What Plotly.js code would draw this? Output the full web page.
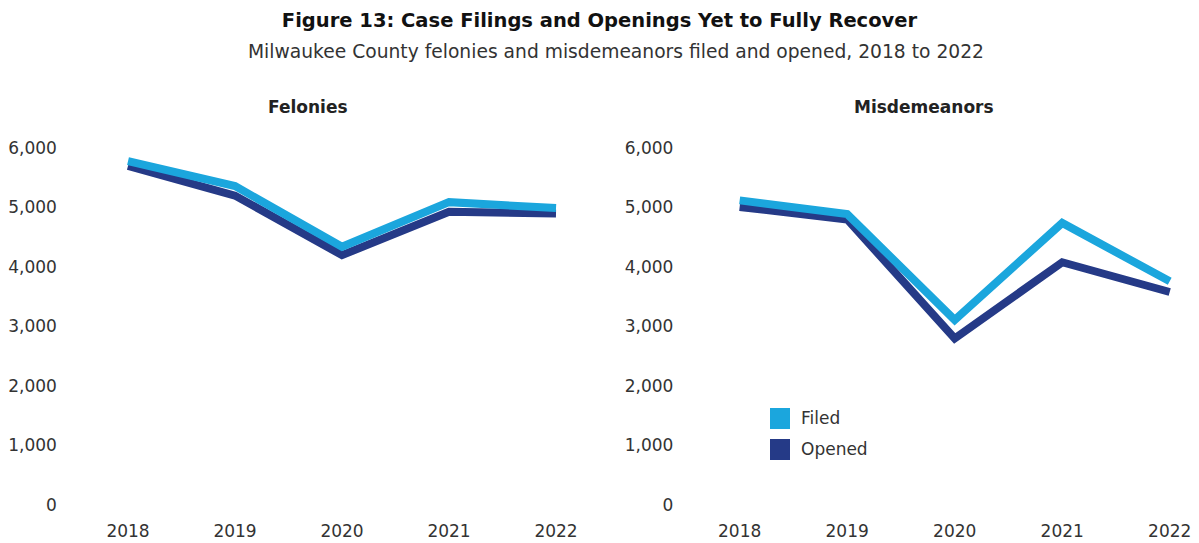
<!DOCTYPE html>
<html>
<head>
<meta charset="utf-8">
<script src="https://cdn.plot.ly/plotly-3.0.1.min.js"></script>
<style>html,body{margin:0;padding:0;background:#fff;}#chart{width:1199px;height:543px;}</style>
</head>
<body>
<div id="chart"></div>
<script>
const years = ["2018", "2019", "2020", "2021", "2022"];
const feloniesFiled = [5780, 5360, 4340, 5090, 4990];
const feloniesOpened = [5700, 5200, 4200, 4930, 4900];
const misdemeanorsFiled = [5120, 4890, 3110, 4740, 3760];
const misdemeanorsOpened = [5010, 4800, 2800, 4080, 3580];
const yTicks = [0, 1000, 2000, 3000, 4000, 5000, 6000];
const yTickLabels = ["0", "1,000", "2,000", "3,000", "4,000", "5,000", "6,000"];
const legendNames = ["Filed", "Opened"];

const cFiled = "#1ba6dd";
const cOpened = "#253a87";
const FONT = "'DejaVu Sans', Verdana, sans-serif";

const lineStyle = (c) => ({color: c, width: 8, shape: "linear"});

const traces = [
  {x: years, y: feloniesOpened, xaxis: "x", yaxis: "y", mode: "lines", line: lineStyle(cOpened), showlegend: false, name: "Opened"},
  {x: years, y: feloniesFiled, xaxis: "x", yaxis: "y", mode: "lines", line: lineStyle(cFiled), showlegend: false, name: "Filed"},
  {x: years, y: misdemeanorsOpened, xaxis: "x2", yaxis: "y2", mode: "lines", line: lineStyle(cOpened), showlegend: false, name: "Opened"},
  {x: years, y: misdemeanorsFiled, xaxis: "x2", yaxis: "y2", mode: "lines", line: lineStyle(cFiled), showlegend: false, name: "Filed"}
];

const xAx = (domain, range) => ({
  domain: domain, type: "category", range: range,
  showgrid: false, zeroline: false, showline: false, ticks: "",
  tickfont: {family: FONT, size: 17, color: "#333"}, ticklabelstandoff: 14, fixedrange: true
});
const yAx = (anchor, standoff) => ({
  anchor: anchor, domain: [0.07, 0.7274], range: [0, 6000],
  tickvals: yTicks, ticktext: yTickLabels,
  showgrid: false, zeroline: false, showline: false, ticks: "",
  tickfont: {family: FONT, size: 17, color: "#333"}, ticklabelstandoff: standoff, fixedrange: true
});

// legend drawn as swatches + labels in paper coordinates
const legColors = [cFiled, cOpened];
const legTop = [408, 439];
const shapes = legendNames.map((n, i) => ({
  type: "rect", xref: "paper", yref: "paper",
  x0: 770/1199, x1: 790/1199, y0: 1 - (legTop[i] + 21)/543, y1: 1 - legTop[i]/543,
  fillcolor: legColors[i], line: {width: 0}
}));
const legAnn = legendNames.map((n, i) => ({
  text: n, xref: "paper", yref: "paper", x: 799/1199, y: 1 - (legTop[i] + 10)/543,
  xanchor: "left", yanchor: "middle", showarrow: false, font: {family: FONT, size: 17, color: "#333"}
}));

const layout = {
  width: 1199, height: 543,
  margin: {l: 0, r: 0, t: 0, b: 0},
  paper_bgcolor: "#fff", plot_bgcolor: "#fff",
  font: {family: FONT, color: "#333"},
  title: {text: "<b>Figure 13: Case Filings and Openings Yet to Fully Recover</b>", x: 0.5, xanchor: "center", y: 1 - 20/543, yanchor: "middle", font: {family: FONT, size: 19.5, color: "#111"}},
  xaxis: Object.assign(xAx([0.08, 0.4905], [-0.3, 4.3]), {anchor: "y"}),
  yaxis: yAx("x", 38),
  xaxis2: Object.assign(xAx([0.590, 0.998], [-0.3, 4.25]), {anchor: "y2"}),
  yaxis2: yAx("x2", 33),
  showlegend: false,
  shapes: shapes,
  annotations: [
    {text: "Milwaukee County felonies and misdemeanors filed and opened, 2018 to 2022", xref: "paper", yref: "paper", x: 616/1199, y: 1 - 52/543, xanchor: "center", yanchor: "middle", showarrow: false, font: {family: FONT, size: 18.7, color: "#333"}},
    {text: "<b>Felonies</b>", xref: "paper", yref: "paper", x: 308/1199, y: 1 - 107/543, xanchor: "center", yanchor: "middle", showarrow: false, font: {family: FONT, size: 17, color: "#222"}},
    {text: "<b>Misdemeanors</b>", xref: "paper", yref: "paper", x: 924/1199, y: 1 - 107/543, xanchor: "center", yanchor: "middle", showarrow: false, font: {family: FONT, size: 17, color: "#222"}}
  ].concat(legAnn)
};

Plotly.newPlot("chart", traces, layout, {displayModeBar: false, staticPlot: true});
</script>
</body>
</html>
